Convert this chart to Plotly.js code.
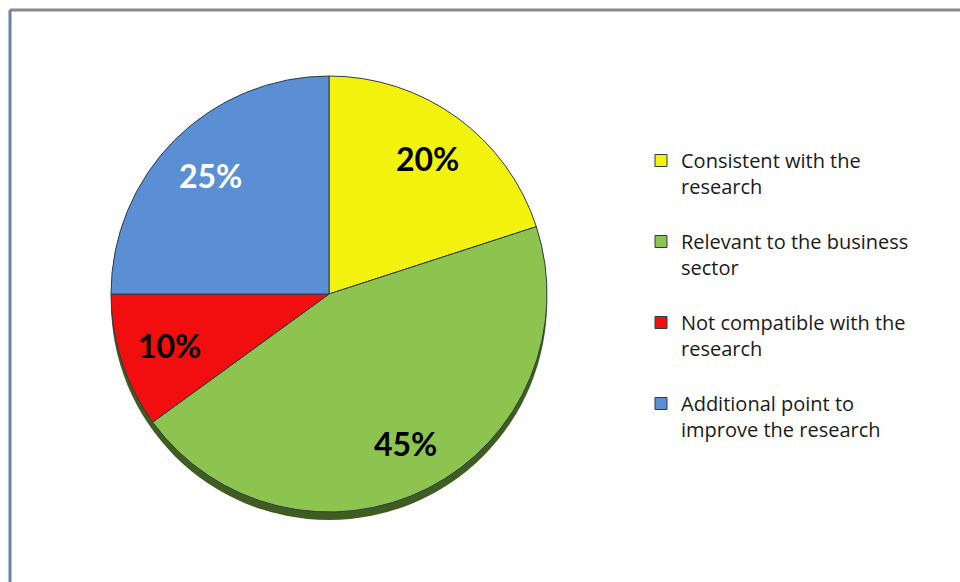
<!DOCTYPE html>
<html>
<head>
<meta charset="utf-8">
<script src="https://cdn.plot.ly/plotly-3.0.1.min.js"></script>
<style>html,body{margin:0;padding:0;background:#fff;}#chart{width:960px;height:582px;}</style>
</head>
<body>
<div id="chart"></div>
<script>
const categories = [
  "Consistent with the<br>research<br>\u00a0",
  "Relevant to the business<br>sector<br>\u00a0",
  "Not compatible with the<br>research<br>\u00a0",
  "Additional point to<br>improve the research<br>\u00a0"
];
const values = [20, 45, 10, 25];
const sliceColors = ["#F2F20C", "#8DC450", "#F20E0E", "#5B8FD3"];
const labelColors = ["#000000", "#000000", "#000000", "#FFFFFF"];

// pie placement (pixels) -> domain
const W = 960, H = 582;
const CX = 329, CY = 294, R = 218;
const domX = [(CX - R) / W, (CX + R) / W];
const domY = [(H - CY - R) / H, (H - CY + R) / H];

const trace = {
  type: "pie",
  labels: categories,
  values: values,
  sort: false,
  direction: "clockwise",
  rotation: 0,
  marker: { colors: sliceColors, line: { color: "#2b3a4a", width: 1 } },
  textinfo: "none",
  hoverinfo: "none",
  domain: { x: domX, y: domY }
};

// percentage labels placed at each slice's mid-angle, derived from the values
const total = values.reduce((a, b) => a + b, 0);
let cum = 0;
const annotations = values.map((v, i) => {
  const mid = (cum + v / 2) / total * 2 * Math.PI;
  cum += v;
  const d = 0.77 * R;
  return {
    xref: "paper", yref: "paper", showarrow: false,
    x: (CX + d * Math.sin(mid)) / W,
    y: (H - CY + d * Math.cos(mid)) / H,
    xanchor: "center", yanchor: "middle",
    text: Math.round(v / total * 100) + "%",
    font: { family: "Lato, 'Open Sans', sans-serif", size: 32, weight: "bold", color: labelColors[i] }
  };
});

const layout = {
  width: W, height: H,
  margin: { l: 0, r: 0, t: 0, b: 0 },
  paper_bgcolor: "#ffffff",
  showlegend: true,
  legend: {
    x: 641 / W, y: (H - 141) / H, xanchor: "left", yanchor: "top",
    valign: "top",
    font: { family: "'Open Sans', sans-serif", size: 20, color: "#1a1a1a" },
    bgcolor: "rgba(0,0,0,0)"
  },
  annotations: annotations,
  shapes: [
    { type: "circle", xref: "paper", yref: "paper", layer: "below",
      x0: domX[0], x1: domX[1], y0: domY[0] - 8 / H, y1: domY[1] - 8 / H,
      fillcolor: "#3f5d20", line: { width: 0 } },
    { type: "line", xref: "paper", yref: "paper",
      x0: 10 / W, x1: 1, y0: (H - 10) / H, y1: (H - 10) / H,
      line: { color: "#8a8a8a", width: 3 } },
    { type: "line", xref: "paper", yref: "paper",
      x0: 10 / W, x1: 10 / W, y0: 0, y1: (H - 10) / H,
      line: { color: "#6b80a8", width: 3 } }
  ]
};

Plotly.newPlot("chart", [trace], layout, { displayModeBar: false, staticPlot: true });
</script>
</body>
</html>
